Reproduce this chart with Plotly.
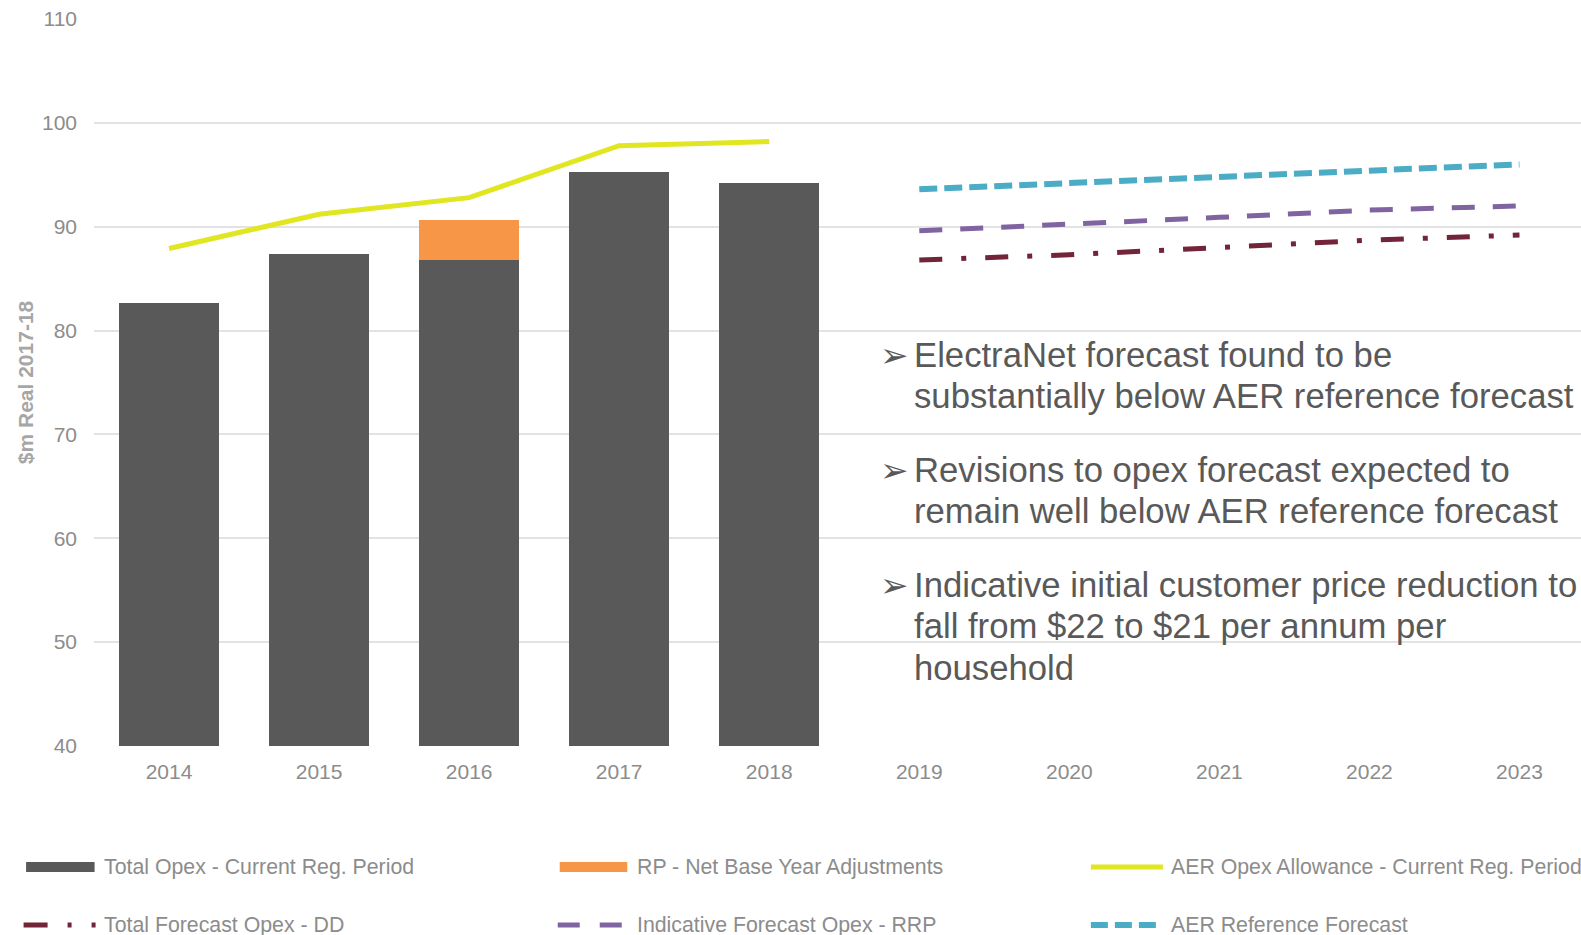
import plotly.graph_objects as go

years = ["2014", "2015", "2016", "2017", "2018", "2019", "2020", "2021", "2022", "2023"]
hist_years = ["2014", "2015", "2016", "2017", "2018"]
fc_years = ["2019", "2020", "2021", "2022", "2023"]

total_opex = [82.7, 87.4, 86.8, 95.3, 94.2]
rp_adjust = [None, None, 3.8, None, None]
aer_allowance = [87.9, 91.2, 92.8, 97.8, 98.2]
forecast_dd = [86.8, 87.3, 88.0, 88.7, 89.2]
forecast_rrp = [89.6, 90.2, 90.9, 91.6, 92.0]
aer_reference = [93.6, 94.2, 94.8, 95.4, 96.0]

names = [
    "Total Opex - Current Reg. Period",
    "RP - Net Base Year Adjustments",
    "AER Opex Allowance - Current Reg. Period",
    "Total Forecast Opex - DD",
    "Indicative Forecast Opex - RRP",
    "AER Reference Forecast",
]
colors = ["#595959", "#f79646", "#e1e622", "#722438", "#8064a2", "#4bacc6"]
dashes = [None, None, "solid", "23px,19px,5px,19px", "23px,18px", "18px,7px"]

W, H = 1581, 935
PL, PR, PT, PB = 94.4, 1581, 19.2, 746


def px(x):
    return (x - PL) / (PR - PL)


def py(y):
    return (PB - y) / (PB - PT)


fig = go.Figure()
fig.add_trace(go.Bar(x=hist_years, y=total_opex, name=names[0], marker_color=colors[0],
                     marker_line_width=0))
fig.add_trace(go.Bar(x=hist_years, y=rp_adjust, name=names[1], marker_color=colors[1],
                     marker_line_width=0))
fig.add_trace(go.Scatter(x=hist_years, y=aer_allowance, name=names[2], mode="lines",
                         line=dict(color=colors[2], width=5)))
fig.add_trace(go.Scatter(x=fc_years, y=forecast_dd, name=names[3], mode="lines",
                         line=dict(color=colors[3], width=5, dash=dashes[3])))
fig.add_trace(go.Scatter(x=fc_years, y=forecast_rrp, name=names[4], mode="lines",
                         line=dict(color=colors[4], width=5, dash=dashes[4])))
fig.add_trace(go.Scatter(x=fc_years, y=aer_reference, name=names[5], mode="lines",
                         line=dict(color=colors[5], width=6, dash=dashes[5])))

tick_font = dict(family="Arial, Liberation Sans", size=21, color="#8c8c8c")

fig.update_layout(
    width=W, height=H,
    margin=dict(l=94, r=0, t=19, b=H - 746),
    paper_bgcolor="white", plot_bgcolor="white",
    barmode="stack", bargap=0.333,
    showlegend=False,
    font=dict(family="Arial, Liberation Sans"),
    xaxis=dict(type="category", categoryorder="array", categoryarray=years,
               range=[-0.5, 9.41], showgrid=False, showline=False, zeroline=False,
               tickfont=tick_font, ticks="", ticklabelstandoff=11),
    yaxis=dict(range=[40, 110], dtick=10, showgrid=True, gridcolor="#e3e3e3", gridwidth=2,
               zeroline=False, showline=False, tickfont=tick_font, ticks="",
               ticklabelstandoff=16,
               title=dict(text="<b>$m Real 2017-18</b>", standoff=2,
                          font=dict(family="Arial, Liberation Sans", size=21, color="#a6a6a6"))),
)

# Custom legend
legend_rows = [867, 925]
legend_keys = [(26.5, 95, 102), (560, 627.5, 635), (1091, 1163, 1169),
               (24, 96, 102), (558, 623, 635), (1091, 1157, 1169)]
legend_dash = [None, None, "solid", "24px,20px,4px,20px,4px,20px", "22px,20px", "17px,7px"]
leg_font = dict(family="Arial, Liberation Sans", size=21.3, color="#8c8c8c")
for i, name in enumerate(names):
    row = i // 3
    x0, x1, xt = legend_keys[i]
    yy = legend_rows[row]
    if i < 2:
        fig.add_shape(type="rect", xref="paper", yref="paper",
                      x0=px(x0), x1=px(x1), y0=py(yy + 5), y1=py(yy - 5),
                      fillcolor=colors[i], line_width=0)
    else:
        fig.add_shape(type="line", xref="paper", yref="paper",
                      x0=px(x0), x1=px(x1), y0=py(yy), y1=py(yy),
                      line=dict(color=colors[i], width=5 if i < 5 else 6, dash=legend_dash[i]))
    fig.add_annotation(x=px(xt), y=py(yy), xref="paper", yref="paper", text=name,
                       showarrow=False, xanchor="left", yanchor="middle", font=leg_font)

# Bullet text
bullets = [
    ["ElectraNet forecast found to be", "substantially below AER reference forecast"],
    ["Revisions to opex forecast expected to", "remain well below AER reference forecast"],
    ["Indicative initial customer price reduction to", "fall from $22 to $21 per annum per", "household"],
]
bullet_y = [[355, 396.3], [469.9, 511.2], [584.8, 626.2, 668.5]]
txt_font = dict(family="Arial, Liberation Sans", size=34.7, color="#595959")
for lines, ys in zip(bullets, bullet_y):
    fig.add_annotation(x=px(878), y=py(ys[0]), xref="paper", yref="paper", text="➢",
                       showarrow=False, xanchor="left", yanchor="middle",
                       font=dict(family="DejaVu Sans", size=34, color="#595959"))
    for line, yy in zip(lines, ys):
        fig.add_annotation(x=px(912), y=py(yy), xref="paper", yref="paper", text=line,
                           showarrow=False, xanchor="left", yanchor="middle", font=txt_font)

fig.write_html("out.html")
